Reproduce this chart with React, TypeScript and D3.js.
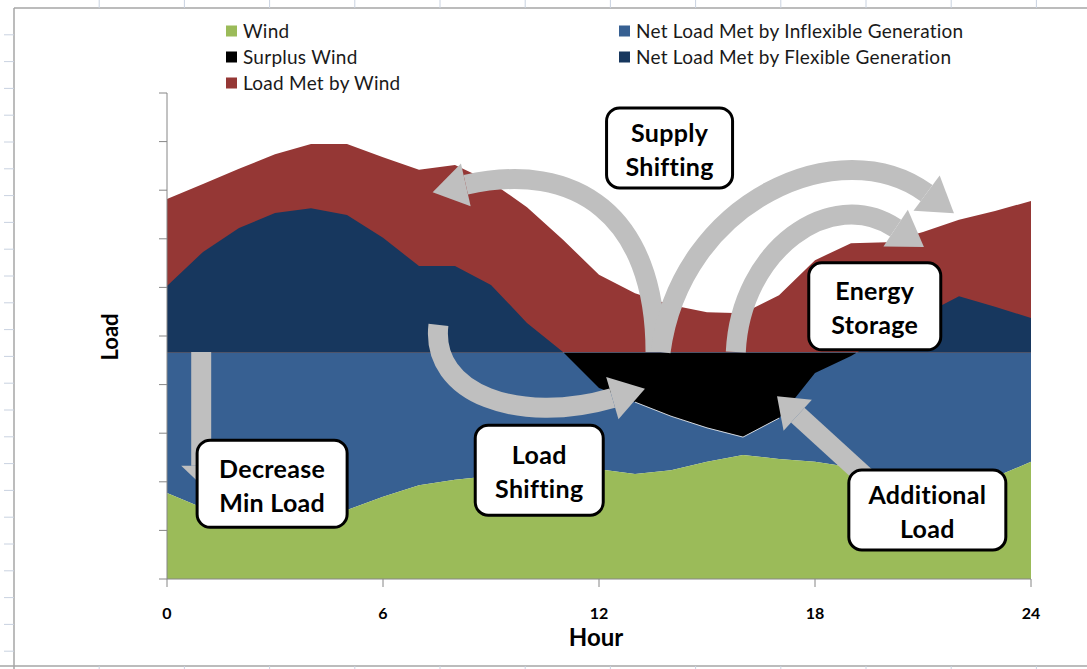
import React from 'react';
import * as d3 from 'd3';

// hourly profile, values in "load units" (axis has no labels, 10 divisions)
const hours = [0, 1, 2, 3, 4, 5, 6, 7, 8, 9, 10, 11, 12, 13, 14, 15, 16, 17, 18, 19, 20, 21, 22, 23, 24];
const load = [7.82, 8.13, 8.44, 8.74, 8.95, 8.95, 8.68, 8.42, 8.52, 8.17, 7.65, 6.98, 6.26, 5.88, 5.64, 5.49, 5.47, 5.84, 6.56, 6.91, 6.93, 7.14, 7.39, 7.57, 7.78];
const netLoad = [6.03, 6.73, 7.22, 7.53, 7.63, 7.49, 7.02, 6.44, 6.44, 6.05, 5.27, 4.67, 3.93, 3.64, 3.35, 3.11, 2.92, 3.31, 4.24, 4.59, 5.02, 5.43, 5.82, 5.6, 5.37];
const wind = [1.77, 1.46, 1.32, 1.23, 1.23, 1.42, 1.69, 1.93, 2.04, 2.12, 2.2, 2.22, 2.26, 2.16, 2.24, 2.41, 2.55, 2.47, 2.41, 2.3, 2.24, 2.16, 2.08, 2.1, 2.41];
const minLoad = 4.66;

const xTicks = [0, 6, 12, 18, 24];
const yTicks = [0, 1, 2, 3, 4, 5, 6, 7, 8, 9, 10];

const legendLeft = ['Wind', 'Surplus Wind', 'Load Met by Wind'];
const legendRight = ['Net Load Met by Inflexible Generation', 'Net Load Met by Flexible Generation'];

// annotation arrows, in [hour, load]
const arrowDecrease = [[0.95, 4.67], [0.95, 2.33]];
const arrowLoadShift = [[7.54, 5.23], [7.31, 3.79], [9.82, 3.17], [12.37, 3.72]];
const arrowSupplyLeft = [[13.57, 4.67], [13.57, 7.49], [11.35, 8.62], [8.3, 8.11]];
const arrowSupplyRight = [[13.71, 4.67], [14.27, 7.8], [18.72, 9.24], [21.1, 7.94]];
const arrowStorage = [[15.8, 4.67], [15.93, 6.77], [18.44, 8.11], [20.24, 7.22]];
const arrowAdditional = [[19.49, 2.04], [17.52, 3.37]];

// callout boxes: centre in [hour, load], then text lines
const boxes = [
  { at: [13.96, 8.87], w: 126, h: 80, lines: ['Supply', 'Shifting'] },
  { at: [2.92, 1.96], w: 150, h: 87, lines: ['Decrease', 'Min Load'] },
  { at: [10.34, 2.24], w: 128, h: 90, lines: ['Load', 'Shifting'] },
  { at: [19.66, 5.61], w: 132, h: 87, lines: ['Energy', 'Storage'] },
  { at: [21.12, 1.42], w: 157, h: 80, lines: ['Additional', 'Load'] },
];

const W = 1087, H = 669;
const GREEN = '#9bbb59', BLUE = '#376092', NAVY = '#17375e', RED = '#953735', GRAY = '#bfbfbf';
const FONT = 'Lato, "Open Sans", sans-serif';

const x = d3.scaleLinear().domain([0, 24]).range([167, 1031]);
const y = d3.scaleLinear().domain([0, 10]).range([579, 93]);

const rows = hours.map((h, i) => ({ h, load: load[i], net: netLoad[i], wind: wind[i] }));

function Arrow({ pts, width = 20, headLen = 34, headWidth = 44 }) {
  const P = pts.map(([h, v]) => [x(h), y(v)]);
  const end = P[P.length - 1], prev = P[P.length - 2];
  const len = Math.hypot(end[0] - prev[0], end[1] - prev[1]);
  const ux = (end[0] - prev[0]) / len, uy = (end[1] - prev[1]) / len;
  const nx = -uy, ny = ux;
  const tip = [end[0] + ux * headLen, end[1] + uy * headLen];
  const a = [end[0] + nx * headWidth / 2, end[1] + ny * headWidth / 2];
  const b = [end[0] - nx * headWidth / 2, end[1] - ny * headWidth / 2];
  const d = P.length === 4
    ? `M${P[0]}C${P[1]} ${P[2]} ${P[3]}`
    : `M${P[0]}L${P[1]}`;
  return (
    <g>
      <path d={d} fill="none" stroke={GRAY} strokeWidth={width} />
      <polygon points={[a, tip, b].map(p => p.join(',')).join(' ')} fill={GRAY} />
    </g>
  );
}

export default function App() {
  const yMin = y(minLoad);

  const redArea = d3.area<any>().x(d => x(d.h)).y0(yMin).y1(d => y(d.load));
  const netArea = d3.area<any>().x(d => x(d.h)).y0(yMin).y1(d => y(d.net));
  const blueArea = d3.area<any>().x(d => x(d.h)).y0(d => y(d.wind)).y1(yMin);
  const greenArea = d3.area<any>().x(d => x(d.h)).y0(y(0)).y1(d => y(d.wind));
  const netEdge = d3.line<any>().defined(d => d.h >= 13 && d.h <= 17).x(d => x(d.h)).y(d => y(d.net));

  const leftTicks = d3.range(8 + 26.8, H, 26.8);
  const topTicks = d3.range(14 + 85.2, W, 85.2);

  return (
    <svg width={W} height={H} style={{ position: 'absolute', left: 0, top: 0, background: '#fff' }} fontFamily={FONT}>
      <defs>
        <clipPath id="above"><rect x={0} y={0} width={W} height={yMin} /></clipPath>
        <clipPath id="below"><rect x={0} y={yMin} width={W} height={H - yMin} /></clipPath>
      </defs>

      {/* spreadsheet frame */}
      <line x1={14} x2={14} y1={8} y2={H} stroke="#a6a6a6" strokeWidth={1.5} />
      <line x1={14} x2={W} y1={8} y2={8} stroke="#a6a6a6" strokeWidth={1.5} />
      <line x1={0} x2={W} y1={666} y2={666} stroke="#a6a6a6" strokeWidth={1.5} />
      {leftTicks.map(t => <line key={'l' + t} x1={4} x2={14} y1={t} y2={t} stroke="#c9d2e0" />)}
      {topTicks.map(t => <line key={'t' + t} x1={t} x2={t} y1={0} y2={8} stroke="#c9d2e0" />)}
      {topTicks.map(t => <line key={'b' + t} x1={t} x2={t} y1={666} y2={H} stroke="#c9d2e0" />)}

      {/* stacked layers */}
      <path d={redArea(rows)} fill={RED} />
      <path d={netArea(rows)} fill={NAVY} clipPath="url(#above)" />
      <path d={blueArea(rows)} fill={BLUE} />
      <path d={netArea(rows)} fill="#000" clipPath="url(#below)" />
      <path d={greenArea(rows)} fill={GREEN} />
      <path d={netEdge(rows)} fill="none" stroke="#fff" strokeWidth={1} opacity={0.8} />

      {/* axes */}
      <line x1={x(0)} x2={x(0)} y1={y(10)} y2={y(0)} stroke="#868686" />
      {yTicks.map(t => <line key={'yt' + t} x1={x(0) - 8} x2={x(0)} y1={y(t)} y2={y(t)} stroke="#868686" />)}
      <line x1={x(0)} x2={x(24)} y1={y(0)} y2={y(0)} stroke="#868686" />
      {xTicks.map(t => (
        <g key={'xt' + t}>
          <line x1={x(t)} x2={x(t)} y1={y(0)} y2={y(0) + 8} stroke="#868686" />
          <text x={x(t)} y={619} textAnchor="middle" fontSize={16} fontWeight="bold">{t}</text>
        </g>
      ))}
      <text x={596} y={646} textAnchor="middle" fontSize={24} fontWeight="bold">Hour</text>
      <text transform="translate(118,337) rotate(-90)" textAnchor="middle" fontSize={22} fontWeight="bold">Load</text>

      {/* arrows */}
      <Arrow pts={arrowDecrease} headLen={19} headWidth={40} />
      <Arrow pts={arrowLoadShift} />
      <Arrow pts={arrowSupplyLeft} />
      <Arrow pts={arrowSupplyRight} />
      <Arrow pts={arrowStorage} />
      <Arrow pts={arrowAdditional} headLen={28} headWidth={42} />

      {/* callouts */}
      {boxes.map(b => {
        const cx = x(b.at[0]), cy = y(b.at[1]);
        return (
          <g key={b.lines.join(' ')}>
            <rect x={cx - b.w / 2} y={cy - b.h / 2} width={b.w} height={b.h} rx={13} fill="#fff" stroke="#000" strokeWidth={3} />
            {b.lines.map((ln, i) => (
              <text key={ln} x={cx} y={cy + (i === 0 ? -6 : 28)} textAnchor="middle" fontSize={25} fontWeight="bold" letterSpacing={0.3}>{ln}</text>
            ))}
          </g>
        );
      })}

      {/* legend */}
      {legendLeft.map((s, i) => (
        <g key={s} transform={`translate(226,${31 + i * 26})`}>
          <rect x={0} y={-5.5} width={11} height={11} fill={[GREEN, '#000', RED][i]} />
          <text x={17} y={6.5} fontSize={19} letterSpacing={0.25} fill="#1a1a1a">{s}</text>
        </g>
      ))}
      {legendRight.map((s, i) => (
        <g key={s} transform={`translate(619,${31 + i * 26})`}>
          <rect x={0} y={-5.5} width={11} height={11} fill={[BLUE, NAVY][i]} />
          <text x={17} y={6.5} fontSize={19} letterSpacing={0.25} fill="#1a1a1a">{s}</text>
        </g>
      ))}
    </svg>
  );
}
